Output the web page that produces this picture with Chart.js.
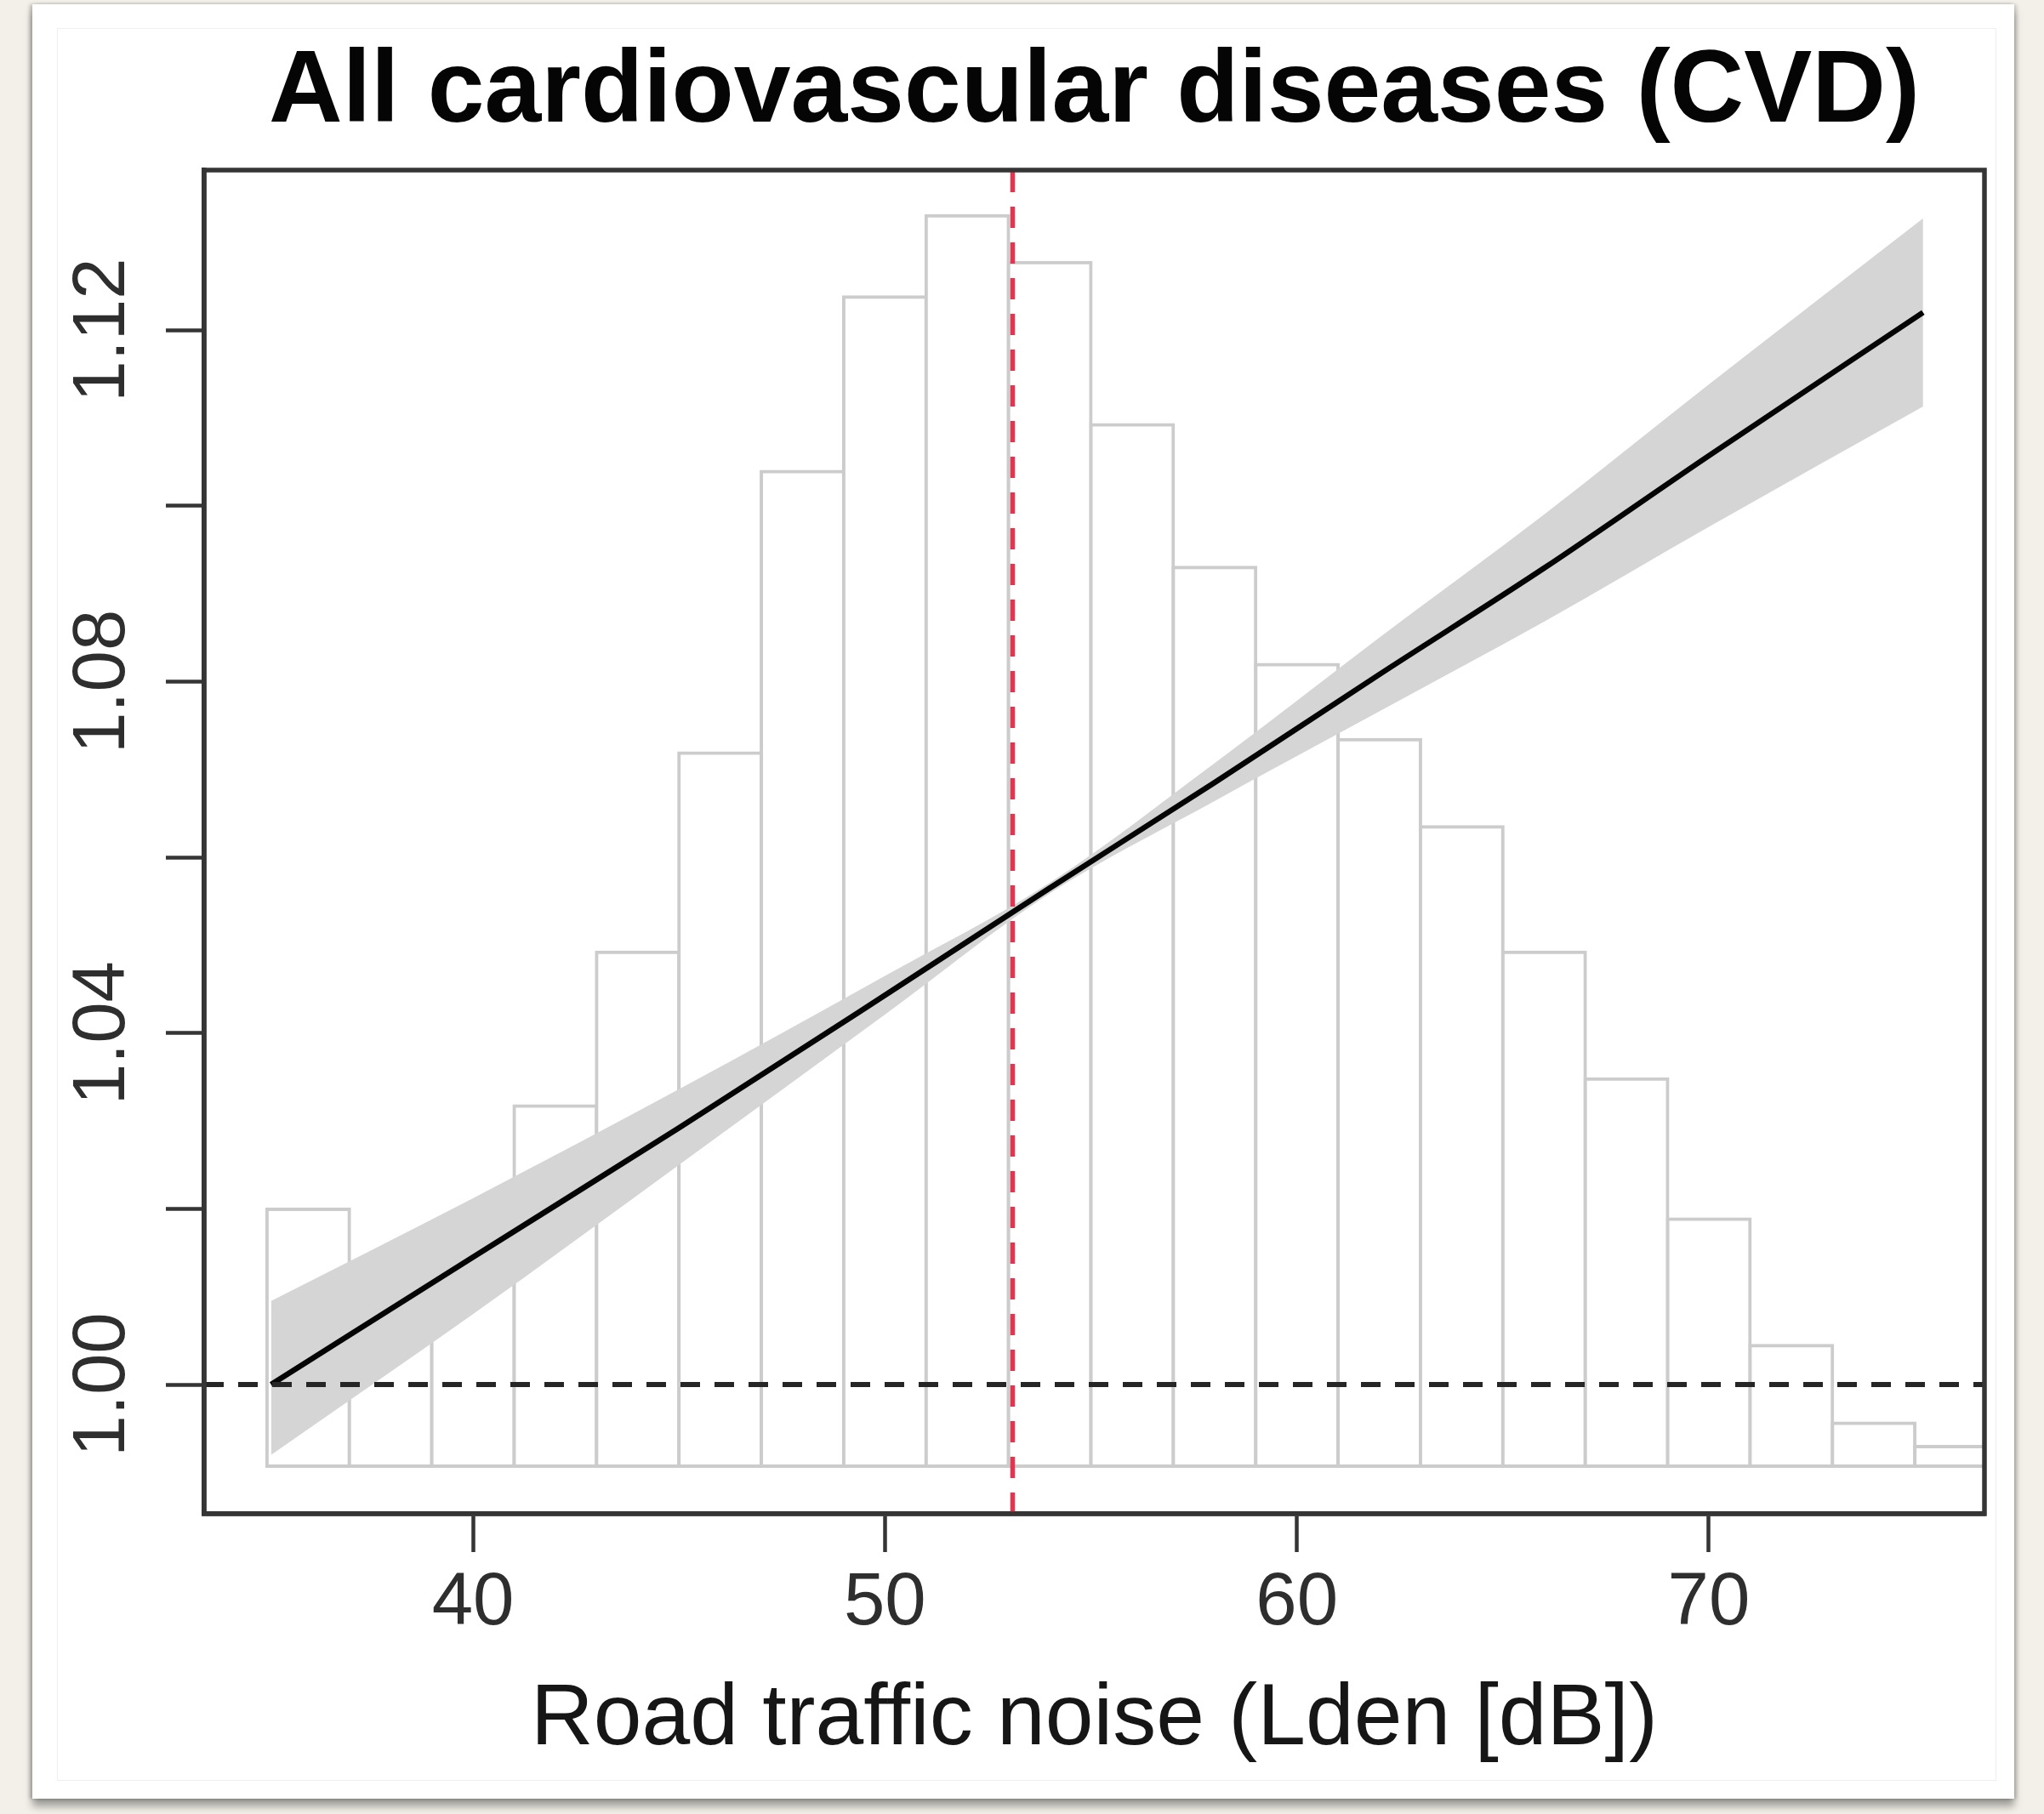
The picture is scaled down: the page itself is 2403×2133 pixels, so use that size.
<!DOCTYPE html>
<html>
<head>
<meta charset="utf-8">
<script src="https://cdn.jsdelivr.net/npm/chart.js@4.4.1/dist/chart.umd.min.js"></script>
<style>
  html, body { margin: 0; padding: 0; width: 2403px; height: 2133px; overflow: hidden; background: #f3f0e9; }
  #card { position: absolute; left: 38px; top: 5px; width: 2330px; height: 2110px; background: #ffffff;
          box-shadow: 0 9px 9px rgba(0,0,0,0.35), -3px 0 4px rgba(0,0,0,0.22), 3px 0 4px rgba(0,0,0,0.15); }
  #inner { position: absolute; left: 67px; top: 33px; width: 2280px; height: 2061px; border: 1px solid #efefef; box-sizing: border-box; }
  #c { position: absolute; left: 0; top: 0; }
</style>
</head>
<body>
<div id="card"></div>
<div id="inner"></div>
<canvas id="c" width="2403" height="2133" style="width:2403px;height:2133px"></canvas>
<script>
// ---------------- data ----------------
const chartTitle = "All cardiovascular diseases (CVD)";
const xTitle = "Road traffic noise (Lden [dB])";

// histogram of exposure (2 dB bins, centres) and share of population (%)
const binCenters = [36, 38, 40, 42, 44, 46, 48, 50, 52, 54, 56, 58, 60, 62, 64, 66, 68, 70, 72, 74, 76];
const histShare  = [2.09, 1.38, 1.80, 2.93, 4.18, 5.80, 8.09, 9.51, 10.17, 9.79, 8.47, 7.31, 6.52, 5.91, 5.20, 4.18, 3.15, 2.01, 0.98, 0.35, 0.16];

// exposure-response curve (relative risk) with confidence band
const curveX     = [35.1, 40, 45, 50, 54, 58, 62, 66, 70, 75.2];
const curveRR    = [1.000, 1.0145, 1.0292, 1.0443, 1.0565, 1.0685, 1.0808, 1.0929, 1.1057, 1.1220];
const curveUpper = [1.0095, 1.0212, 1.0336, 1.0465, 1.0571, 1.0707, 1.0850, 1.0990, 1.1138, 1.1327];
const curveLower = [0.9920, 1.0080, 1.0250, 1.0421, 1.0559, 1.0664, 1.0766, 1.0868, 1.0976, 1.1113];

const refRR = 1.0;          // horizontal reference line
const medianNoise = 53.1;   // vertical red dashed line

// axes
const xTicks = [40, 50, 60, 70];
const yTicks = [1.00, 1.02, 1.04, 1.06, 1.08, 1.10, 1.12];
const yTickLabels = ["1.00", "", "1.04", "", "1.08", "", "1.12"];
const xMin = 33.475, xMax = 76.69;
const yMin = 0.98529, yMax = 1.1382;
const histAxisMin = -0.387, histAxisMax = 10.542;

// ---------------- chart ----------------
const FONT = "'Liberation Sans', Arial, Helvetica, sans-serif";

const framePlugin = {
  id: 'frame',
  afterDatasetsDraw(chart) {
    const { ctx, chartArea: a } = chart;
    ctx.save();
    ctx.strokeStyle = '#353535';
    ctx.lineWidth = 5.5;
    ctx.strokeRect(a.left, a.top, a.right - a.left, a.bottom - a.top);
    ctx.restore();
  }
};

new Chart(document.getElementById('c'), {
  type: 'bar',
  data: {
    datasets: [
      {
        type: 'line', label: 'median exposure',
        data: [{ x: medianNoise, y: yMin }, { x: medianNoise, y: yMax }],
        borderColor: '#e3354f', borderWidth: 5.5, borderDash: [25, 17],
        pointRadius: 0, order: 0
      },
      {
        type: 'line', label: 'reference',
        data: [{ x: xMin, y: refRR }, { x: xMax, y: refRR }],
        borderColor: '#262626', borderWidth: 6, borderDash: [23, 17],
        pointRadius: 0, order: 1
      },
      {
        type: 'line', label: 'RR',
        data: curveX.map((x, i) => ({ x, y: curveRR[i] })),
        borderColor: '#050505', borderWidth: 6.5, pointRadius: 0,
        cubicInterpolationMode: 'monotone', order: 2
      },
      {
        type: 'line', label: 'upper',
        data: curveX.map((x, i) => ({ x, y: curveUpper[i] })),
        borderColor: 'rgba(0,0,0,0)', borderWidth: 0, pointRadius: 0,
        cubicInterpolationMode: 'monotone',
        fill: 4, backgroundColor: '#d5d5d5', order: 3
      },
      {
        type: 'line', label: 'lower',
        data: curveX.map((x, i) => ({ x, y: curveLower[i] })),
        borderColor: 'rgba(0,0,0,0)', borderWidth: 0, pointRadius: 0,
        cubicInterpolationMode: 'monotone', fill: false, order: 4
      },
      {
        type: 'bar', label: 'exposure distribution', yAxisID: 'yHist',
        data: binCenters.map((x, i) => ({ x, y: histShare[i] })),
        backgroundColor: '#ffffff', borderColor: '#cccccc', borderWidth: 4,
        borderSkipped: false, inflateAmount: 2,
        barPercentage: 1, categoryPercentage: 1, grouped: false, order: 5
      }
    ]
  },
  options: {
    responsive: false,
    animation: false,
    devicePixelRatio: 1,
    layout: { padding: { left: 0, top: 0, right: 70, bottom: 0 } },
    plugins: {
      legend: { display: false },
      tooltip: { enabled: false },
      title: {
        display: true, text: chartTitle, fullSize: false, color: '#050505',
        font: { family: FONT, size: 120, weight: 'bold', lineHeight: 1 },
        padding: { top: 50, bottom: 30 }
      }
    },
    scales: {
      x: {
        type: 'linear', position: 'bottom', min: xMin, max: xMax, offset: false,
        afterBuildTicks: s => { s.ticks = xTicks.map(v => ({ value: v })); },
        afterFit: s => { s.height = 353; },
        grid: { display: true, drawOnChartArea: false, drawTicks: true, tickLength: 45, tickWidth: 4.5, tickColor: '#353535', offset: false },
        border: { display: true, color: '#353535', width: 5.5 },
        ticks: { color: '#2e2e2e', font: { family: FONT, size: 87, lineHeight: 1 }, padding: 18,
                 minRotation: 0, maxRotation: 0, autoSkip: false, callback: (v, i) => String(xTicks[i]) },
        title: { display: true, text: xTitle, color: '#161616',
                 font: { family: FONT, size: 102, lineHeight: 1 }, padding: { top: 0, bottom: 59 } }
      },
      y: {
        type: 'linear', position: 'left', min: yMin, max: yMax,
        afterBuildTicks: s => { s.ticks = yTicks.map(v => ({ value: v })); },
        afterFit: s => { s.width = 240; },
        grid: { display: true, drawOnChartArea: false, drawTicks: true, tickLength: 45, tickWidth: 4.5, tickColor: '#353535' },
        border: { display: true, color: '#353535', width: 5.5 },
        ticks: { color: '#2e2e2e', font: { family: FONT, size: 87, lineHeight: 1 }, padding: -12,
                 crossAlign: 'center', minRotation: 90, maxRotation: 90, autoSkip: false,
                 callback: (v, i) => yTickLabels[i] }
      },
      yHist: { type: 'linear', display: false, min: histAxisMin, max: histAxisMax }
    }
  },
  plugins: [framePlugin]
});
</script>
</body>
</html>
